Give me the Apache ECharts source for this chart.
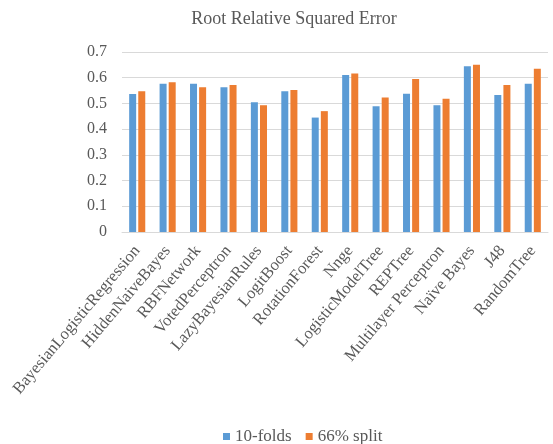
<!DOCTYPE html>
<html><head><meta charset="utf-8">
<script src="https://cdn.jsdelivr.net/npm/echarts@6/dist/echarts.min.js"></script>
<style>html,body{margin:0;padding:0;background:#fff}#c{width:553px;height:444px}</style>
</head><body><div id="c"></div>
<script>
const categories = ["BayesianLogisticRegression","HiddenNaiveBayes","RBFNetwork","VotedPerceptron","LazyBayesianRules","LogitBoost","RotationForest","Nnge","LogisticModelTree","REPTree","Multilayer Perceptron","Naïve Bayes","J48","RandomTree"];
const tenFolds = [0.537,0.577,0.577,0.563,0.505,0.547,0.445,0.611,0.489,0.538,0.493,0.645,0.533,0.577];
const split66 = [0.547,0.582,0.563,0.572,0.493,0.552,0.470,0.616,0.523,0.595,0.518,0.650,0.572,0.635];
const seriesNames = ["10-folds","66% split"];
const font = "Liberation Serif";
const chart = echarts.init(document.getElementById('c'));
chart.setOption({
  animation:false,
  title:{text:"Root Relative Squared Error",left:289,textAlign:'center',top:5,textStyle:{fontFamily:font,fontSize:18,fontWeight:'normal',color:'#595959'}},
  legend:{top:423,left:218,itemWidth:7,itemHeight:7,itemGap:14,icon:'rect',textStyle:{fontFamily:font,fontSize:17,color:'#595959'},data:seriesNames},
  grid:{left:122,right:5,top:52,bottom:212},
  xAxis:{type:'category',data:categories,axisTick:{show:false},axisLine:{lineStyle:{color:'#d9d9d9'}},
    axisLabel:{rotate:50,interval:0,fontFamily:font,fontSize:16.5,color:'#595959',margin:16}},
  yAxis:{type:'value',min:0,max:0.7,interval:0.1,axisLine:{show:false},axisTick:{show:false},
    splitLine:{lineStyle:{color:'#d9d9d9',width:1}},
    axisLabel:{fontFamily:font,fontSize:16,color:'#595959',margin:15,formatter:v=>v===0?'0':v.toFixed(1)}},
  series:[
    {name:seriesNames[0],type:'bar',data:tenFolds,barWidth:7,barGap:'30%',itemStyle:{color:'#5B9BD5'}},
    {name:seriesNames[1],type:'bar',data:split66,barWidth:7,itemStyle:{color:'#ED7D31'}}
  ]
});
</script></body></html>
